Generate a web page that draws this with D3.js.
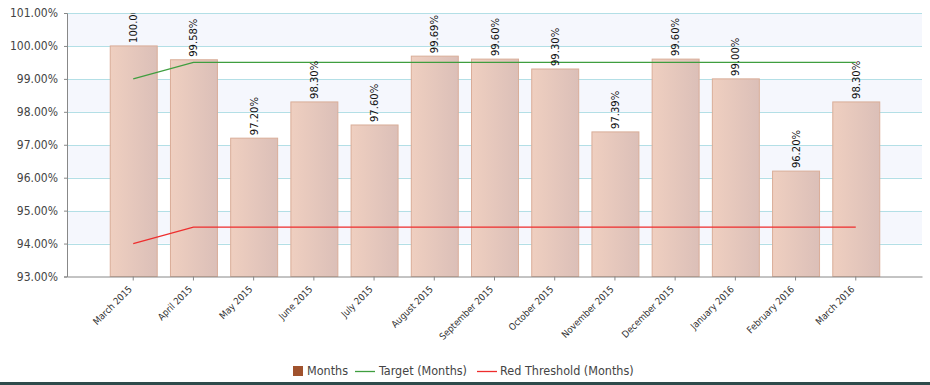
<!DOCTYPE html>
<html>
<head>
<meta charset="utf-8">
<script src="https://cdn.jsdelivr.net/npm/d3@7"></script>
<style>
  html, body { margin: 0; padding: 0; background: #fff; }
  svg { display: block; }
</style>
</head>
<body>
<svg id="chart" width="930" height="385"></svg>
<script>
// Monthly availability with target and red threshold
const months = ["March 2015", "April 2015", "May 2015", "June 2015", "July 2015", "August 2015",
  "September 2015", "October 2015", "November 2015", "December 2015", "January 2016",
  "February 2016", "March 2016"];
const values = [100.00, 99.58, 97.20, 98.30, 97.60, 99.69, 99.60, 99.30, 97.39, 99.60, 99.00, 96.20, 98.30];
const target = [99.0, 99.5, 99.5, 99.5, 99.5, 99.5, 99.5, 99.5, 99.5, 99.5, 99.5, 99.5, 99.5];
const redThreshold = [94.0, 94.5, 94.5, 94.5, 94.5, 94.5, 94.5, 94.5, 94.5, 94.5, 94.5, 94.5, 94.5];
const yTicks = [93, 94, 95, 96, 97, 98, 99, 100, 101];
const legendItems = ["Months", "Target (Months)", "Red Threshold (Months)"];

const svg = d3.select("#chart");
const W = 930, H = 385;
const plot = { left: 67, right: 922, top: 13, bottom: 276.5 };

const x = d3.scaleBand()
  .domain(months)
  .range([plot.left, plot.right])
  .paddingInner(0.22)
  .paddingOuter(0.71);

const y = d3.scaleLinear()
  .domain([93, 101])
  .range([plot.bottom, plot.top]);

const defs = svg.append("defs");
const grad = defs.append("linearGradient").attr("id", "barGrad")
  .attr("x1", "0%").attr("x2", "100%").attr("y1", "0%").attr("y2", "0%");
grad.append("stop").attr("offset", "0%").attr("stop-color", "#efcfc0");
grad.append("stop").attr("offset", "100%").attr("stop-color", "#dbbfb8");

defs.append("clipPath").attr("id", "plotClip")
  .append("rect")
  .attr("x", plot.left).attr("y", plot.top)
  .attr("width", plot.right - plot.left).attr("height", plot.bottom - plot.top);

// alternating background bands
const bands = d3.range(93, 101);
svg.append("g").selectAll("rect").data(bands).join("rect")
  .attr("x", plot.left)
  .attr("width", plot.right - plot.left)
  .attr("y", d => y(d + 1))
  .attr("height", d => y(d) - y(d + 1))
  .attr("fill", (d, i) => (i % 2 === 1) ? "#f5f7fd" : "#ffffff");

// horizontal grid lines
svg.append("g").selectAll("line").data(yTicks.slice(1)).join("line")
  .attr("x1", plot.left).attr("x2", plot.right)
  .attr("y1", d => Math.round(y(d)) + 0.5).attr("y2", d => Math.round(y(d)) + 0.5)
  .attr("stroke", "#b3dfe6").attr("stroke-width", 1.2);

// bars
svg.append("g").selectAll("rect").data(months).join("rect")
  .attr("x", d => x(d) + 0.5)
  .attr("width", x.bandwidth())
  .attr("y", (d, i) => y(values[i]))
  .attr("height", (d, i) => plot.bottom - y(values[i]))
  .attr("fill", "url(#barGrad)")
  .attr("stroke", "#d9ad98")
  .attr("stroke-width", 1);

// target and threshold lines
const cx = d => x(d) + x.bandwidth() / 2;
const lineGen = arr => d3.line().x((d, i) => cx(d)).y((d, i) => y(arr[i]))(months);
svg.append("path").attr("d", lineGen(target))
  .attr("fill", "none").attr("stroke", "#3f9e3f").attr("stroke-width", 1.3);
svg.append("path").attr("d", lineGen(redThreshold))
  .attr("fill", "none").attr("stroke", "#ee2d2d").attr("stroke-width", 1.3);

// value labels above bars (clipped to the plot area)
svg.append("g").attr("clip-path", "url(#plotClip)")
  .selectAll("text").data(months).join("text")
  .attr("transform", (d, i) => `translate(${cx(d) + 4},${y(values[i]) - 3}) rotate(-90)`)
  .attr("text-anchor", "start")
  .attr("font-family", "DejaVu Sans, Verdana, sans-serif")
  .attr("font-size", "10px")
  .attr("fill", "#111")
  .text((d, i) => values[i].toFixed(2) + "%");

// y axis
const yAxis = svg.append("g")
  .attr("transform", `translate(${plot.left},0)`)
  .call(d3.axisLeft(y).tickValues(yTicks).tickSize(3).tickPadding(6)
    .tickFormat(d => d.toFixed(2) + "%"));
yAxis.selectAll("text")
  .attr("font-family", "DejaVu Sans Condensed, DejaVu Sans, sans-serif")
  .attr("font-size", "12px").attr("fill", "#444");
yAxis.select(".domain").attr("stroke", "#888");
yAxis.selectAll(".tick line").attr("stroke", "#888");

// x axis
const xAxis = svg.append("g")
  .attr("transform", `translate(0,${plot.bottom})`)
  .call(d3.axisBottom(x).tickSize(4).tickSizeOuter(0).tickPadding(4));
xAxis.select(".domain").attr("stroke", "#888");
xAxis.selectAll(".tick line").attr("stroke", "#888");
xAxis.selectAll("text")
  .attr("font-family", "DejaVu Sans Condensed, DejaVu Sans, sans-serif")
  .attr("font-size", "9.5px").attr("fill", "#333")
  .attr("text-anchor", "end")
  .attr("transform", "translate(-3,11) rotate(-45)")
  .attr("dy", "0.35em").attr("y", 0).attr("x", 0);

// legend
const legend = svg.append("g").attr("font-family", "DejaVu Sans Condensed, DejaVu Sans, sans-serif")
  .attr("font-size", "12.5px").attr("fill", "#444");
const ly = 371;
legend.append("rect").attr("x", 293).attr("y", ly - 5).attr("width", 10).attr("height", 10).attr("fill", "#a0522d");
legend.append("text").attr("x", 307).attr("y", ly).attr("dy", "0.35em").text(legendItems[0]);
legend.append("line").attr("x1", 355).attr("x2", 375).attr("y1", ly + 0.5).attr("y2", ly + 0.5)
  .attr("stroke", "#3f9e3f").attr("stroke-width", 1.3);
legend.append("text").attr("x", 379).attr("y", ly).attr("dy", "0.35em").text(legendItems[1]);
legend.append("line").attr("x1", 477).attr("x2", 497).attr("y1", ly + 0.5).attr("y2", ly + 0.5)
  .attr("stroke", "#ee2d2d").attr("stroke-width", 1.3);
legend.append("text").attr("x", 500).attr("y", ly).attr("dy", "0.35em").text(legendItems[2]);

// footer strip
svg.append("rect").attr("x", 0).attr("y", 382).attr("width", W).attr("height", 3).attr("fill", "#2e4b4b");
</script>
</body>
</html>
